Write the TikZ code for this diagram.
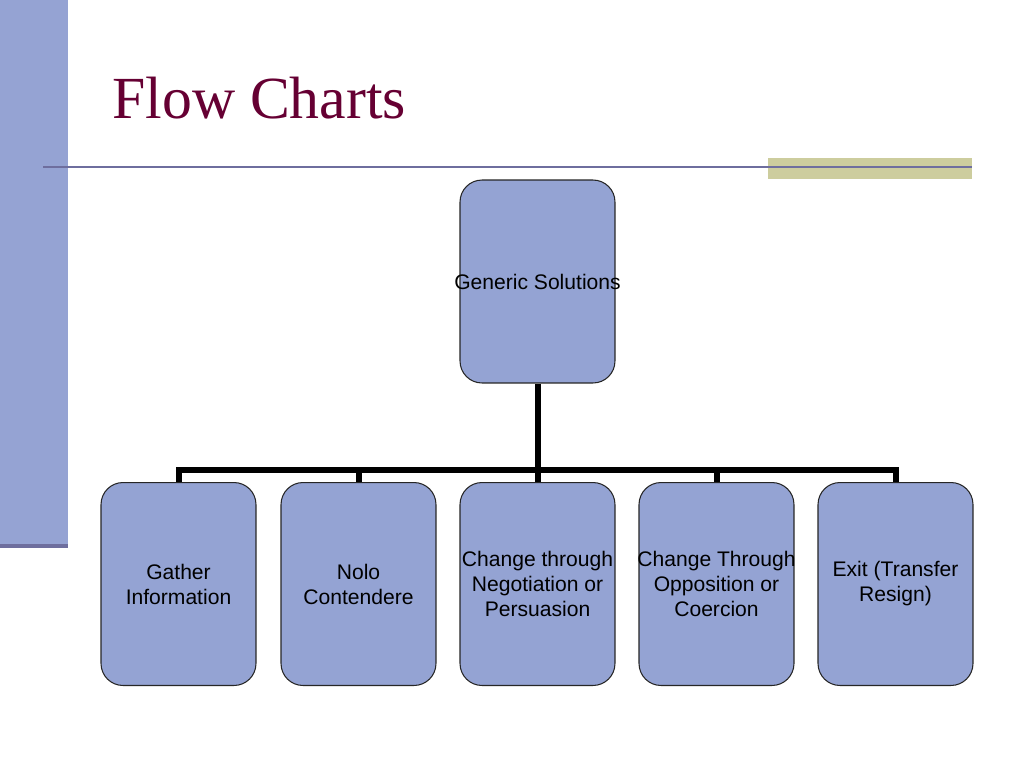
\documentclass[tikz,border=0pt]{standalone}
\usepackage{fontspec}
\setmainfont{Liberation Sans}
\newfontfamily\titlefont{Liberation Serif}
\usetikzlibrary{positioning, calc}

\definecolor{boxblue}{RGB}{148,163,211}
\definecolor{barblue}{RGB}{149,163,211}
\definecolor{ruleblue}{RGB}{110,110,158}
\definecolor{khaki}{RGB}{205,205,158}
\definecolor{maroon}{RGB}{102,0,51}

\tikzset{
  solbox/.style={draw=black!85, line width=0.6pt, fill=boxblue, rounded corners=0.44cm,
    minimum width=3.1cm, minimum height=4.06cm, inner sep=0pt,
    label={[align=center, inner sep=0pt, font=\fontsize{12}{14.2}\selectfont]center:#1}},
  link/.style={line width=0.12cm}
}

\begin{document}
\begin{tikzpicture}[x=0.02cm, y=-0.02cm]
\useasboundingbox (0,0) rectangle (1024,768);
\fill[white] (0,0) rectangle (1024,768);

% slide decoration
\fill[barblue] (0,0) rectangle (68,546);
\fill[ruleblue] (0,544) rectangle (68,548);
\fill[khaki] (768,158) rectangle (972,179);
\draw[ruleblue, line width=0.04cm] (43,167) -- (972,167);

\node[anchor=base west, inner sep=0pt, text=maroon, font=\titlefont\fontsize{34}{40}\selectfont] (title) at (112,118) {Flow Charts};

% boxes
\node[solbox={Generic Solutions}] (gen) at (537.5,281.5) {};

\node[solbox={Gather\\Information}] (gath) at (178.5,584) {};
\node[solbox={Nolo\\Contendere}] (nolo) at (358.5,584) {};
\node[solbox={Change through\\Negotiation or\\Persuasion}] (nego) at (537.5,584) {};
\node[solbox={Change Through\\Opposition or\\Coercion}] (oppo) at (716.5,584) {};
\node[solbox={Exit (Transfer\\Resign)}] (exit) at (895.5,584) {};

\coordinate (bus) at (537.5,470);

% connectors
\draw[link] (gen.south) -- (gen.south |- bus);
\draw[link, line cap=rect] (gath.north |- bus) -- (exit.north |- bus);
\foreach \n in {gath, nolo, nego, oppo, exit}
  \draw[link] (\n.north |- bus) -- (\n.north);
\end{tikzpicture}
\end{document}
